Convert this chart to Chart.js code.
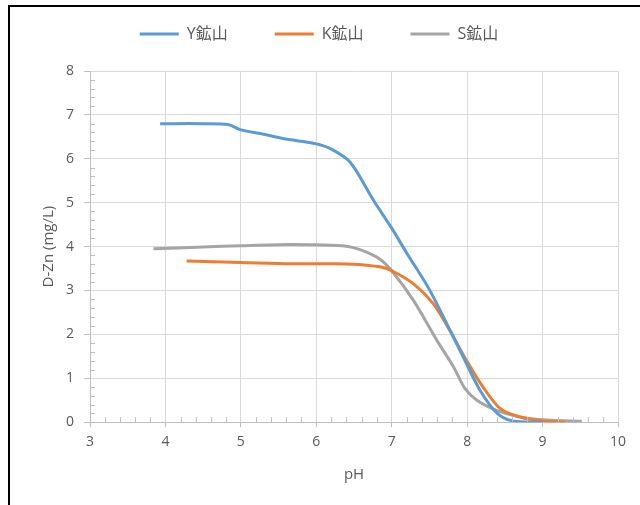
<!DOCTYPE html>
<html>
<head>
<meta charset="utf-8">
<script src="https://cdn.jsdelivr.net/npm/chart.js@4/dist/chart.umd.min.js"></script>
<style>
  body { margin: 0; background: #fff; }
  #wrap { position: relative; width: 640px; height: 505px; }
  #frame { position: absolute; left: 8px; top: 5px; width: 640px; height: 505px;
    border-left: 2px solid #000; border-top: 2px solid #000; pointer-events: none; }
</style>
</head>
<body>
<div id="wrap">
  <canvas id="chart" width="640" height="505"></canvas>
  <div id="frame"></div>
</div>
<script>
const seriesNames = ['Y鉱山', 'K鉱山', 'S鉱山'];
const seriesColors = ['#5B9BD5', '#ED7D31', '#A5A5A5'];

// pH values and dissolved Zn (mg/L)
const phY = [3.93, 4.5, 4.83, 5.0, 5.3, 5.6, 6.0, 6.2, 6.45, 6.76, 7.0, 7.2, 7.5, 7.95, 8.17, 8.4, 8.6, 9.0];
const znY = [6.80, 6.80, 6.78, 6.66, 6.56, 6.45, 6.34, 6.22, 5.92, 5.05, 4.42, 3.85, 3.02, 1.48, 0.73, 0.20, 0.03, 0.0];

const phK = [4.28, 5.0, 5.65, 6.2, 6.5, 6.84, 7.0, 7.29, 7.55, 7.77, 7.99, 8.21, 8.44, 8.7, 9.05, 9.3];
const znK = [3.67, 3.64, 3.61, 3.61, 3.60, 3.54, 3.45, 3.15, 2.70, 2.09, 1.41, 0.80, 0.31, 0.12, 0.02, 0.0];

const phS = [3.84, 4.5, 5.0, 5.65, 6.0, 6.4, 6.6, 6.84, 7.0, 7.29, 7.6, 7.82, 7.97, 8.13, 8.39, 8.7, 9.05, 9.52];
const znS = [3.95, 3.99, 4.02, 4.05, 4.04, 4.01, 3.92, 3.72, 3.45, 2.77, 1.86, 1.26, 0.77, 0.50, 0.27, 0.12, 0.05, 0.02];

const xTicks = [3, 4, 5, 6, 7, 8, 9, 10];
const yTicks = [0, 1, 2, 3, 4, 5, 6, 7, 8];

const fontFamily = '"Open Sans", "Noto Sans CJK JP", sans-serif';
const textColor = '#595959';
const gridColor = '#d9d9d9';

function toPoints(xs, ys) {
  return xs.map((x, i) => ({ x: x, y: ys[i] }));
}

const allPh = [phY, phK, phS];
const allZn = [znY, znK, znS];

const datasets = seriesNames.map((name, i) => ({
  label: name,
  data: toPoints(allPh[i], allZn[i]),
  borderColor: seriesColors[i],
  backgroundColor: seriesColors[i],
  borderWidth: 3,
  pointRadius: 0,
  tension: 0.3,
  fill: false
}));

// minor tick marks drawn inside the plot, like the original
const minorTicks = {
  id: 'minorTicks',
  afterDraw(chart) {
    const ctx = chart.ctx;
    const xs = chart.scales.x;
    const ys = chart.scales.y;
    ctx.save();
    ctx.strokeStyle = '#bfbfbf';
    ctx.lineWidth = 1;
    ctx.beginPath();
    for (let v = 3; v < 10; v += 0.2) {
      if (Math.abs(v - Math.round(v)) < 1e-6) continue;
      const px = Math.round(xs.getPixelForValue(v)) + 0.5;
      ctx.moveTo(px, ys.bottom);
      ctx.lineTo(px, ys.bottom - 5);
    }
    for (let v = 0; v < 8; v += 0.2) {
      if (Math.abs(v - Math.round(v)) < 1e-6) continue;
      const py = Math.round(ys.getPixelForValue(v)) + 0.5;
      ctx.moveTo(xs.left, py);
      ctx.lineTo(xs.left + 5, py);
    }
    ctx.stroke();
    ctx.restore();
  }
};

const legendSpace = {
  id: 'legendSpace',
  beforeInit(chart) {
    const fit = chart.legend.fit;
    chart.legend.fit = function () {
      fit.bind(chart.legend)();
      this.height += 19;
    };
  }
};

new Chart(document.getElementById('chart'), {
  type: 'line',
  data: { datasets: datasets },
  options: {
    responsive: false,
    animation: false,
    layout: { padding: { left: 20, right: 22, top: -21, bottom: 17 } },
    plugins: {
      legend: {
        position: 'top',
        labels: {
          color: textColor,
          font: { family: fontFamily, size: 16 },
          usePointStyle: true,
          pointStyle: 'line',
          pointStyleWidth: 39,
          padding: 47
        }
      },
      tooltip: { enabled: false }
    },
    scales: {
      x: {
        type: 'linear',
        min: 3,
        max: 10,
        afterBuildTicks(scale) { scale.ticks = xTicks.map(v => ({ value: v })); },
        grid: { color: gridColor, tickLength: 5, tickColor: '#bfbfbf' },
        border: { color: '#bfbfbf' },
        ticks: { color: textColor, font: { family: fontFamily, size: 14 }, padding: 6, maxRotation: 0 },
        title: { display: true, text: 'pH', color: textColor, font: { family: fontFamily, size: 15 }, padding: { top: 10, bottom: 4 } }
      },
      y: {
        min: 0,
        max: 8,
        afterBuildTicks(scale) { scale.ticks = yTicks.map(v => ({ value: v })); },
        afterFit(scale) { scale.width = 70; },
        grid: { color: gridColor, tickLength: 6, tickColor: '#bfbfbf' },
        border: { color: '#bfbfbf' },
        ticks: { color: textColor, font: { family: fontFamily, size: 14 }, padding: 10 },
        title: { display: true, text: 'D-Zn (mg/L)', color: textColor, font: { family: fontFamily, size: 15 }, padding: { top: 20, bottom: 4 } }
      }
    }
  },
  plugins: [minorTicks, legendSpace]
});
</script>
</body>
</html>
